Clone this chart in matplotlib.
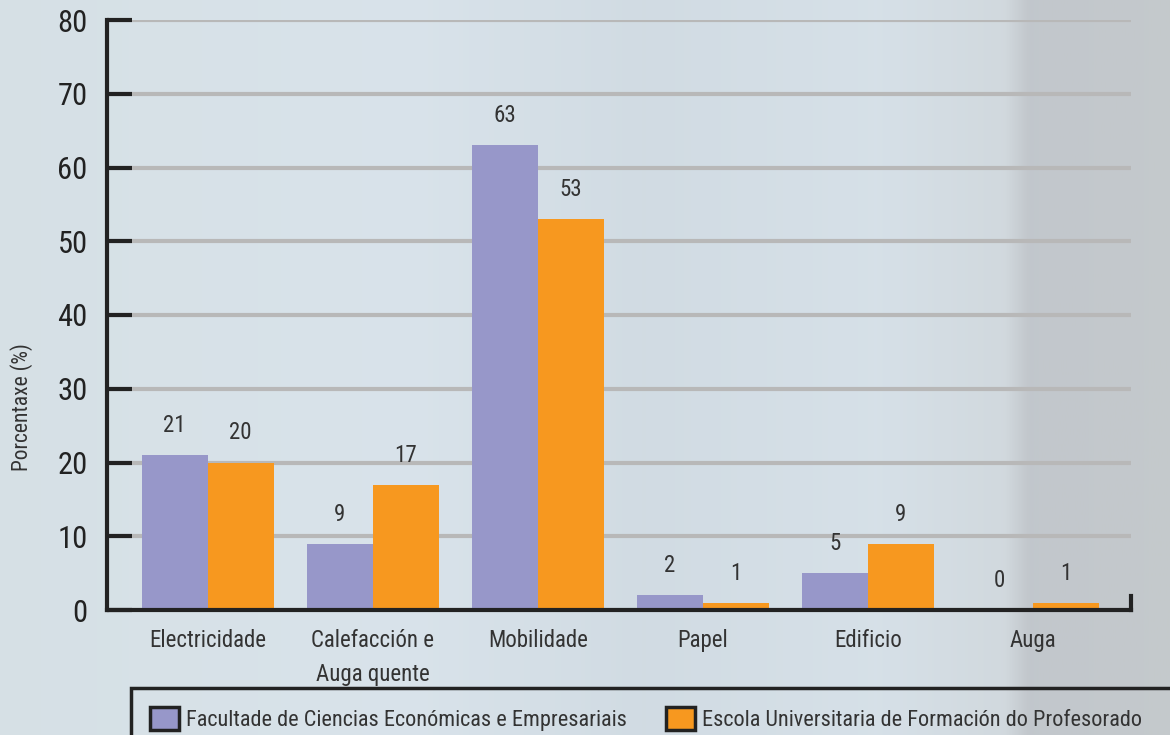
import numpy as np
import matplotlib
matplotlib.use('Agg')
import matplotlib.pyplot as plt
from matplotlib import font_manager
from matplotlib.patches import Rectangle, Patch

# pick a narrow sans if one is around, else plain DejaVu Sans
installed = {f.name for f in font_manager.fontManager.ttflist}
narrow = [n for n in ('Roboto Condensed', 'Liberation Sans Narrow', 'Archivo Narrow',
                      'PT Sans Narrow', 'Open Sans Condensed', 'Encode Sans Condensed')
          if n in installed]
plt.rcParams['font.family'] = narrow[:1] + ['DejaVu Sans']
plt.rcParams['font.stretch'] = 'condensed'

categories = ['Electricidade', 'Calefacción e\nAuga quente', 'Mobilidade', 'Papel', 'Edificio', 'Auga']
facultade = [21, 9, 63, 2, 5, 0]
escola = [20, 17, 53, 1, 9, 1]
series_names = ['Facultade de Ciencias Económicas e Empresariais',
                'Escola Universitaria de Formación do Profesorado']
yticks = [0, 10, 20, 30, 40, 50, 60, 70, 80]

PURPLE = '#9797c9'
ORANGE = '#f7981f'
TEXT = '#333333'

fig = plt.figure(figsize=(11.7, 7.35), dpi=100)

# blurred photo-like background, approximated by a horizontal gradient
bg = fig.add_axes([0, 0, 1, 1], zorder=-10)
stops_x = [0.0, 0.35, 0.55, 0.75, 0.86, 0.88, 1.0]
stops_c = np.array([[0.84, 0.88, 0.90], [0.85, 0.89, 0.92], [0.82, 0.86, 0.89],
                    [0.84, 0.88, 0.91], [0.82, 0.85, 0.87], [0.76, 0.78, 0.80],
                    [0.77, 0.79, 0.80]])
xs = np.linspace(0, 1, 400)
grad = np.stack([np.interp(xs, stops_x, stops_c[:, k]) for k in range(3)], axis=-1)
bg.imshow(grad[np.newaxis, :, :], aspect='auto', extent=[0, 1, 0, 1])
bg.axis('off')

ax = fig.add_axes([107 / 1170, 1 - 610 / 735, (1131 - 107) / 1170, (610 - 20) / 735])
ax.patch.set_alpha(0)

x = np.arange(len(categories))
w = 0.4
b1 = ax.bar(x - w / 2, facultade, w, color=PURPLE, zorder=2)
b2 = ax.bar(x + w / 2, escola, w, color=ORANGE, zorder=2)

for bars, vals in ((b1, facultade), (b2, escola)):
    for rect, v in zip(bars, vals):
        ax.annotate(f'{v}', (rect.get_x() + rect.get_width() / 2, v),
                    textcoords='offset points', xytext=(0, 13),
                    ha='center', va='bottom', fontsize=16.5, color=TEXT)

ax.set_xlim(-0.61, 5.595)
ax.set_ylim(0, 80)
ax.set_yticks(yticks)
ax.set_xticks(x)
ax.set_xticklabels(categories, fontsize=16.5, color=TEXT, linespacing=1.6)
ax.tick_params(axis='x', length=0, pad=14)
ax.tick_params(axis='y', direction='in', length=18, width=3, color='#222222',
               labelsize=22, labelcolor='#222222', pad=14)
ax.set_axisbelow(True)
ax.yaxis.grid(True, color='#b8b8b8', linewidth=3)

ax.spines['top'].set_visible(False)
for s in ('left', 'bottom', 'right'):
    ax.spines[s].set_linewidth(3)
    ax.spines[s].set_color('#222222')
ax.spines['right'].set_bounds(0, 1.9)

fig.text(22 / 1170, 1 - 407 / 735, 'Porcentaxe (%)', rotation=90, ha='center',
         va='center', fontsize=15.5, color=TEXT)

# legend frame running off the page
fig.patches.append(Rectangle((131 / 1170, -0.05), 1.1, 0.05 + (735 - 688) / 735,
                             transform=fig.transFigure, fill=False,
                             edgecolor='#222222', linewidth=2.5))
handles = [Patch(facecolor=PURPLE, edgecolor='#222222', linewidth=2.5),
           Patch(facecolor=ORANGE, edgecolor='#222222', linewidth=2.5)]
fig.legend(handles, series_names, ncol=2, frameon=False, fontsize=16,
           loc='center left', bbox_to_anchor=(150 / 1170, 1 - 719 / 735),
           borderaxespad=0, borderpad=0, handlelength=1.3, handleheight=1.2,
           handletextpad=0.3, columnspacing=1.8, labelcolor=TEXT)

fig.savefig('out.png', dpi=100)
